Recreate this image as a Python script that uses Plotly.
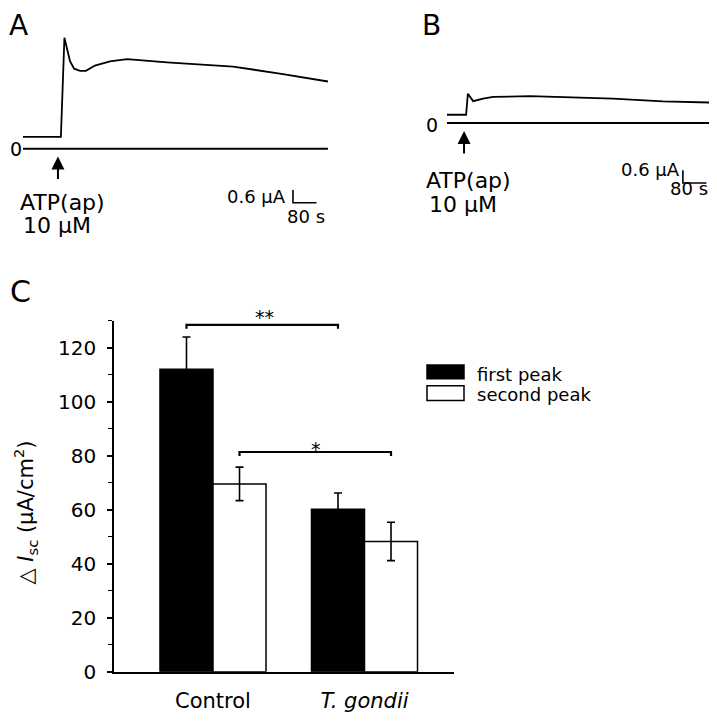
import plotly.graph_objects as go

W, H = 717, 727
OFF = 8  # page body margin: the figure is drawn 8 px right/down in the window
FONT = "DejaVu Sans"

# ---------------- data ----------------
# Panel C (bar chart)
groups = [0, 1]
group_labels = ["Control", "<i>T. gondii</i>"]
series_names = ["first peak", "second peak"]
first_peak = [112.0, 60.2]
first_err = [12.0, 6.0]
second_peak = [69.6, 48.3]
second_err = [6.2, 7.1]
y_ticks = [0, 20, 40, 60, 80, 100, 120]
sig_labels = ["**", "*"]

# Panel A trace: time (s) and current (μA)
a_time = [0, 129, 141, 150, 160, 174, 194, 214, 245, 296, 354, 490, 715, 885, 1038]
a_current = [0.55, 0.55, 5.2, 4.65, 4.1, 3.75, 3.65, 3.65, 3.9, 4.1, 4.2, 4.05, 3.85, 3.5, 3.15]

# Panel B trace: time (s) and current (μA)
b_time = [0, 65, 71, 89, 123, 157, 283, 565, 735, 905]
b_current = [0.39, 0.39, 1.38, 1.03, 1.15, 1.23, 1.26, 1.15, 1.02, 0.96]

scale_time = 80      # s
scale_current = 0.6  # μA
stim_time_a = 119
stim_time_b = 58

# ---------------- helpers (window pixels -> paper fractions) ----------------
def X(px):
    return (px - OFF) / W

def Y(py):
    return 1 - (py - OFF) / H

SX = 3.404    # s per px
SY = 0.04615  # μA per px

def txt(text, px, py, size, xanchor="center", yanchor="middle", **kw):
    return dict(x=X(px), y=Y(py), xref="paper", yref="paper", text=text,
                showarrow=False, xanchor=xanchor, yanchor=yanchor,
                font=dict(size=size, family=FONT, color="black"), **kw)

fig = go.Figure()

# ---------- Panel C ----------
fig.add_trace(go.Bar(
    x=groups, y=first_peak, name=series_names[0],
    marker=dict(color="black", line=dict(color="black", width=1.5)),
    error_y=dict(type="data", array=first_err, color="black", thickness=1.6, width=4),
    xaxis="x", yaxis="y", showlegend=False))
fig.add_trace(go.Bar(
    x=groups, y=second_peak, name=series_names[1],
    marker=dict(color="white", line=dict(color="black", width=1.5)),
    error_y=dict(type="data", array=second_err, color="black", thickness=1.6, width=4),
    xaxis="x", yaxis="y", showlegend=False))

# ---------- Panel A ----------
fig.add_trace(go.Scatter(x=a_time, y=a_current, mode="lines",
                         line=dict(color="black", width=1.8),
                         xaxis="x2", yaxis="y2", showlegend=False))
fig.add_trace(go.Scatter(x=[a_time[0], a_time[-1]], y=[0, 0], mode="lines",
                         line=dict(color="black", width=2),
                         xaxis="x2", yaxis="y2", showlegend=False))
# ---------- Panel B ----------
fig.add_trace(go.Scatter(x=b_time, y=b_current, mode="lines",
                         line=dict(color="black", width=1.8),
                         xaxis="x3", yaxis="y3", showlegend=False))
fig.add_trace(go.Scatter(x=[b_time[0], b_time[-1]], y=[0, 0], mode="lines",
                         line=dict(color="black", width=2),
                         xaxis="x3", yaxis="y3", showlegend=False))

# axes geometry (window pixels)
cx0, cx1, cy_top, cy0 = 114, 454, 326, 683
unit_px = 151.5
ctrl_px = 213
ymax = 130

hidden = dict(visible=False, showgrid=False, zeroline=False, fixedrange=True)

ax_o = (23, 151)
a_dom = (8, 340, 8, 250)
bx_o = (447, 125)
b_dom = (390, 725, 8, 230)

def dom_range(o, d):
    x0, x1, y0, y1 = d
    return dict(
        xdomain=[X(x0), X(x1)], xrange=[(x0 - o[0]) * SX, (x1 - o[0]) * SX],
        ydomain=[Y(y1), Y(y0)], yrange=[(o[1] - y1) * SY, (o[1] - y0) * SY])

ra = dom_range(ax_o, a_dom)
rb = dom_range(bx_o, b_dom)

fig.update_layout(
    width=W, height=H,
    margin=dict(l=0, r=0, t=0, b=0),
    paper_bgcolor="white", plot_bgcolor="rgba(0,0,0,0)",
    font=dict(family=FONT, color="black"),
    barmode="group", bargap=0.3, bargroupgap=0,
    xaxis=dict(domain=[X(cx0), X(cx1)],
               range=[(cx0 - ctrl_px) / unit_px, (cx1 - ctrl_px) / unit_px],
               tickvals=groups, ticktext=group_labels,
               showline=True, linecolor="black", linewidth=1.6,
               ticks="", showgrid=False, zeroline=False,
               tickfont=dict(size=21, family=FONT, color="black"),
               ticklabelstandoff=9, fixedrange=True),
    yaxis=dict(domain=[Y(cy0), Y(cy_top)], range=[0, ymax],
               tickvals=y_ticks, ticks="outside", ticklen=5, tickwidth=1.5,
               tickcolor="black",
               minor=dict(dtick=10, tick0=0, ticks="outside", ticklen=4,
                          tickwidth=1.2, tickcolor="black", showgrid=False),
               showline=True, linecolor="black", linewidth=1.6,
               showgrid=False, zeroline=False,
               tickfont=dict(size=20, family=FONT, color="black"),
               ticklabelstandoff=7, fixedrange=True),
    xaxis2=dict(domain=ra["xdomain"], range=ra["xrange"], anchor="y2", **hidden),
    yaxis2=dict(domain=ra["ydomain"], range=ra["yrange"], anchor="x2", **hidden),
    xaxis3=dict(domain=rb["xdomain"], range=rb["xrange"], anchor="y3", **hidden),
    yaxis3=dict(domain=rb["ydomain"], range=rb["yrange"], anchor="x3", **hidden),
)

shapes = []
annotations = []

# significance brackets (Panel C)
half = 0.7 / 4
brackets = [
    (groups[0] - half, groups[1] - half, 128.5, sig_labels[0], (264, 322)),
    (groups[0] + half, groups[1] + half, 81.4, sig_labels[1], (316, 456)),
]
for xa, xb, yb, lab, pos in brackets:
    shapes.append(dict(type="path", xref="x", yref="y",
                       path=f"M {xa},{yb-1.5} L {xa},{yb} L {xb},{yb} L {xb},{yb-1.5}",
                       line=dict(color="black", width=2.2)))
    annotations.append(txt(lab, pos[0], pos[1], 19))

# legend (Panel C)
leg = [(371, 385, "black"), (392, 407, "white")]
leg_text_y = [380.5, 400.5]
for (t, b, col), name, ty in zip(leg, series_names, leg_text_y):
    shapes.append(dict(type="rect", xref="paper", yref="paper",
                       x0=X(427), x1=X(464), y0=Y(b), y1=Y(t),
                       fillcolor=col, line=dict(color="black", width=1.5)))
    annotations.append(txt(name, 475, ty, 18, xanchor="left"))

# y title
annotations.append(txt("△ <i>I</i><sub>sc</sub> (μA/cm<sup>2</sup>)", 25, 521, 21,
                       textangle=-90))

# panel letters
annotations.append(txt("A", 8, 8, 28, xanchor="left", yanchor="top", borderpad=0))
annotations.append(txt("B", 431, 8, 28, yanchor="top", borderpad=0))
annotations.append(txt("C", 8, 296, 30, xanchor="left"))

def trace_panel(xr, yr, t_stim, corner_t, corner_i, zero_px, zero_anchor,
                atp_px, um_px, sb_px, s_px):
    shapes.append(dict(type="path", xref=xr, yref=yr,
                       path=(f"M {corner_t},{corner_i + scale_current} L {corner_t},{corner_i} "
                             f"L {corner_t + scale_time},{corner_i}"),
                       line=dict(color="black", width=1.6)))
    annotations.append(txt(f"{scale_current} μA", sb_px[0], sb_px[1], 18, xanchor="right"))
    annotations.append(txt(f"{scale_time} s", s_px[0], s_px[1], 18))
    annotations.append(txt("0", zero_px[0], zero_px[1], 19, xanchor=zero_anchor))
    annotations.append(dict(x=t_stim, y=-8 * SY, xref=xr, yref=yr, text="",
                            showarrow=True, ax=0, ay=24, arrowhead=2, arrowsize=1.3,
                            arrowwidth=2, arrowcolor="black"))
    annotations.append(txt("ATP(ap)", atp_px[0], atp_px[1], 22))
    annotations.append(txt("10 μM", um_px[0], um_px[1], 22))

trace_panel("x2", "y2", stim_time_a, 919, -2.54, (8, 151), "left",
            (62, 206), (57, 229), (288, 200), (306, 220))
trace_panel("x3", "y3", stim_time_b, 803, -2.815, (432, 127), "center",
            (468, 183), (463, 208), (682, 172), (689, 192))

fig.update_layout(shapes=shapes, annotations=annotations)
fig.write_html("out.html")
